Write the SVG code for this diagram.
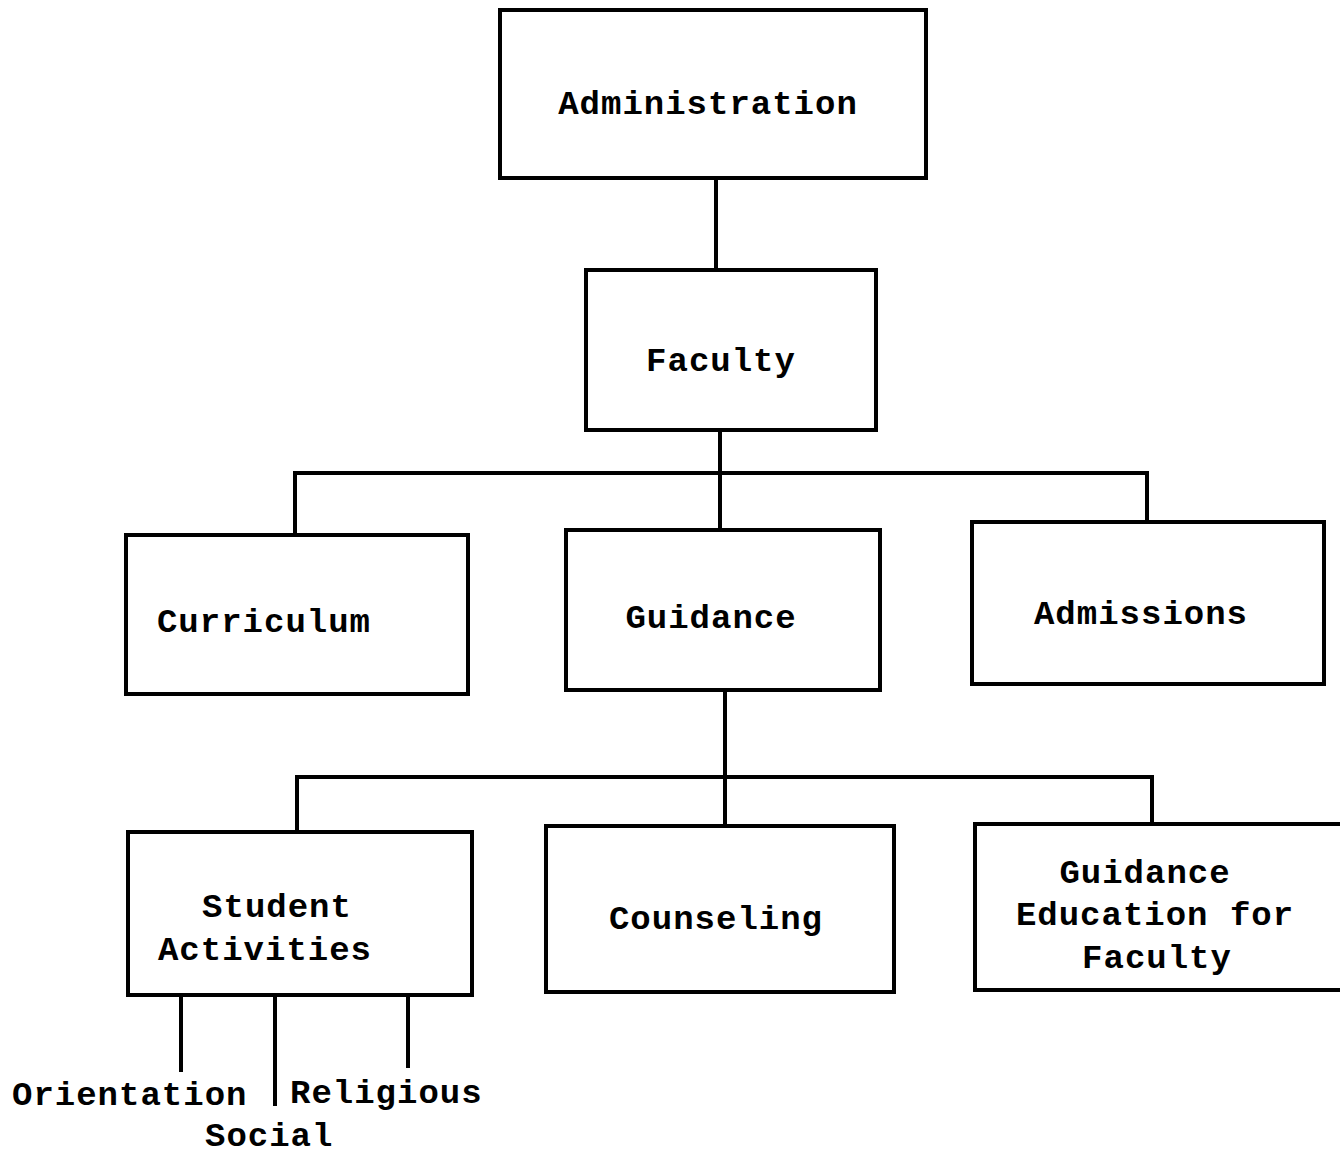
<svg xmlns="http://www.w3.org/2000/svg" width="1340" height="1154" viewBox="0 0 1340 1154">
<style>
.box{fill:#fff;stroke:#000;stroke-width:4}
.ln{stroke:#000;stroke-width:4;fill:none}
text{font-family:"Liberation Mono","Courier New",monospace;font-weight:bold;font-size:34px;fill:#000;letter-spacing:1px}
.m{text-anchor:middle}
</style>
<rect width="1340" height="1154" fill="#fff"/>
<g id="connectors">
<line class="ln" x1="716" y1="178" x2="716" y2="270"/>
<line class="ln" x1="720" y1="430" x2="720" y2="530"/>
<polyline class="ln" points="295,535 295,473 1147,473 1147,522"/>
<line class="ln" x1="725" y1="690" x2="725" y2="826"/>
<polyline class="ln" points="297,832 297,777 1152,777 1152,824"/>
<line class="ln" x1="181" y1="995" x2="181" y2="1072"/>
<line class="ln" x1="275" y1="995" x2="275" y2="1106"/>
<line class="ln" x1="408" y1="995" x2="408" y2="1068"/>
</g>
<g id="administration"><rect class="box" x="500" y="10" width="426" height="168"/><text class="m" x="708" y="114">Administration</text></g>
<g id="faculty"><rect class="box" x="586" y="270" width="290" height="160"/><text class="m" x="721" y="371">Faculty</text></g>
<g id="curriculum"><rect class="box" x="126" y="535" width="342" height="159"/><text class="m" x="264" y="632">Curriculum</text></g>
<g id="guidance"><rect class="box" x="566" y="530" width="314" height="160"/><text class="m" x="711" y="628">Guidance</text></g>
<g id="admissions"><rect class="box" x="972" y="522" width="352" height="162"/><text class="m" x="1141" y="624">Admissions</text></g>
<g id="student-activities"><rect class="box" x="128" y="832" width="344" height="163"/><text class="m" x="277" y="917">Student</text><text class="m" x="265" y="960">Activities</text></g>
<g id="counseling"><rect class="box" x="546" y="826" width="348" height="166"/><text class="m" x="716" y="929">Counseling</text></g>
<g id="guidance-education"><rect class="box" x="975" y="824" width="372" height="166"/><text class="m" x="1145" y="883">Guidance</text><text class="m" x="1155" y="925">Education for</text><text class="m" x="1157" y="968">Faculty</text></g>
<g id="sub-labels">
<text x="12" y="1105">Orientation</text>
<text x="290" y="1103">Religious</text>
<text x="205" y="1146">Social</text>
</g>
</svg>
